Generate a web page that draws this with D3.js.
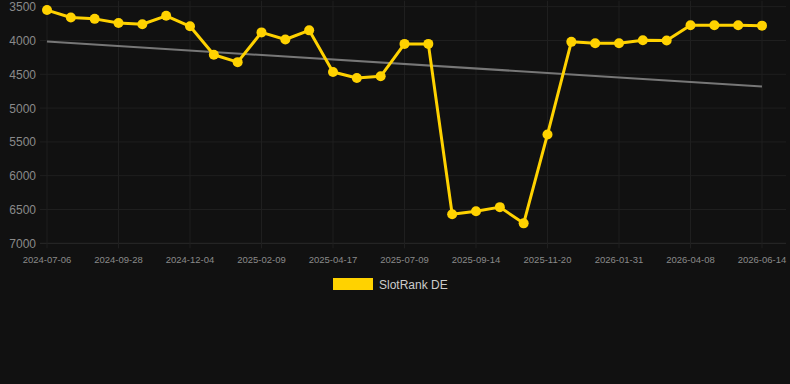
<!DOCTYPE html>
<html><head><meta charset="utf-8">
<script src="https://cdn.jsdelivr.net/npm/d3@7"></script>
<style>html,body{margin:0;padding:0;background:#111111;}svg{display:block;}</style>
</head><body>
<svg id="c" width="790" height="384"></svg>
<script>
const dates = ["2024-07-06","2024-08-03","2024-08-31","2024-09-28","2024-10-20","2024-11-12","2024-12-04","2024-12-26","2025-01-17","2025-02-09","2025-03-03","2025-03-26","2025-04-17","2025-05-15","2025-06-12","2025-07-09","2025-08-01","2025-08-23","2025-09-14","2025-10-06","2025-10-28","2025-11-20","2025-12-14","2026-01-07","2026-01-31","2026-02-22","2026-03-16","2026-04-08","2026-04-30","2026-05-22","2026-06-14"];
const rankDE = [3550,3660,3680,3740,3760,3635,3790,4210,4320,3880,3985,3850,4465,4555,4530,4050,4050,6570,6525,6465,6705,5390,4020,4040,4040,3995,4000,3775,3775,3775,3780];
const trendEnds = [4015,4680];
const yTicks = [3500,4000,4500,5000,5500,6000,6500,7000];
const xTickLabels = ["2024-07-06","2024-09-28","2024-12-04","2025-02-09","2025-04-17","2025-07-09","2025-09-14","2025-11-20","2026-01-31","2026-04-08","2026-06-14"];
const seriesName = "SlotRank DE";

(function(){
const svg = d3.select("#c");
const mLeft = 47, mRight = 762, mTop = 6.7, mBottom = 243.3;
const x = d3.scalePoint().domain(dates).range([mLeft, mRight]);
const y = d3.scaleLinear().domain([3500,7000]).range([mTop, mBottom]);

const grid = svg.append("g");
grid.selectAll("line.h").data(yTicks).join("line")
  .attr("x1", 40).attr("x2", 786)
  .attr("y1", d => y(d)).attr("y2", d => y(d))
  .attr("stroke", d => d === 7000 ? "#2a2a2a" : "#1f1f1f").attr("stroke-width", 1);
grid.selectAll("line.v").data(xTickLabels).join("line")
  .attr("x1", d => x(d)).attr("x2", d => x(d))
  .attr("y1", mTop - 6).attr("y2", mBottom + 5)
  .attr("stroke", "#1f1f1f").attr("stroke-width", 1);

svg.append("g").selectAll("text").data(yTicks).join("text")
  .attr("x", 36).attr("y", d => y(d) + 4.5)
  .attr("text-anchor", "end")
  .attr("font-family", "Liberation Sans, Arial, sans-serif").attr("font-size", 12)
  .attr("fill", "#8a8a8a").text(d => d);

svg.append("g").selectAll("text").data(xTickLabels).join("text")
  .attr("x", d => x(d)).attr("y", 262.5)
  .attr("text-anchor", "middle")
  .attr("font-family", "Liberation Sans, Arial, sans-serif").attr("font-size", 9.5)
  .attr("fill", "#8a8a8a").text(d => d);

svg.append("line")
  .attr("x1", x(dates[0])).attr("y1", y(trendEnds[0]))
  .attr("x2", x(dates[dates.length-1])).attr("y2", y(trendEnds[1]))
  .attr("stroke", "#777777").attr("stroke-width", 2);

const line = d3.line().x((d,i) => x(dates[i])).y(d => y(d));
svg.append("path").datum(rankDE)
  .attr("d", line).attr("fill", "none")
  .attr("stroke", "#FFD200").attr("stroke-width", 3).attr("stroke-linejoin", "round");

svg.append("g").selectAll("circle").data(rankDE).join("circle")
  .attr("cx", (d,i) => x(dates[i])).attr("cy", d => y(d))
  .attr("r", 5).attr("fill", "#FFD200");

const lg = svg.append("g");
lg.append("rect").attr("x", 333).attr("y", 278).attr("width", 40).attr("height", 12).attr("fill", "#FFD200");
lg.append("text").attr("x", 379).attr("y", 289)
  .attr("font-family", "Liberation Sans, Arial, sans-serif").attr("font-size", 12)
  .attr("fill", "#cccccc").text(seriesName);
})();
</script>
</body></html>
